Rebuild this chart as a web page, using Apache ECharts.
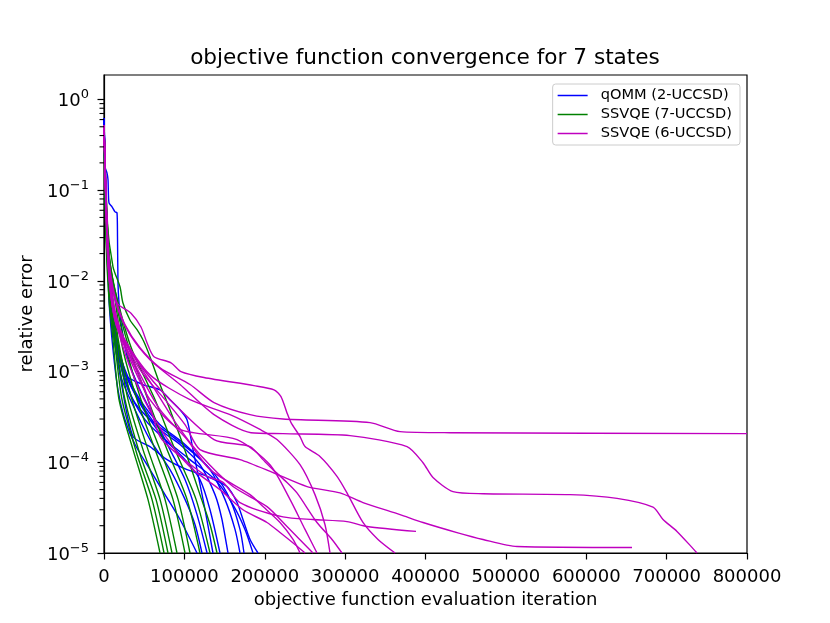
<!DOCTYPE html>
<html>
<head>
<meta charset="utf-8">
<script src="https://cdn.jsdelivr.net/npm/echarts@6/dist/echarts.min.js"></script>
<style>
  html, body { margin: 0; padding: 0; background: #fff; }
  #chart { width: 830px; height: 623px; }
</style>
</head>
<body>
<div id="chart"></div>
<script>
// runs: [evaluation iteration, relative error]
var qommRuns = [
  [[0,0.625],[1200,0.167],[3700,0.0366],[6200,0.0062],[11200,0.00174],[17400,6.3e-4],[26100,2.95e-4],[38600,1.57e-4],[57200,8.3e-5],[75900,4.4e-5],[94600,2.34e-5],[115700,1e-5]],
  [[0,0.625],[2500,0.078],[5000,0.0171],[7500,0.0062],[13700,0.00198],[22400,8.1e-4],[38600,3.8e-4],[57200,1.78e-4],[82100,8.3e-5],[100800,3.9e-5],[113200,2.06e-5],[121900,1e-5]],
  [[0,0.625],[1200,0.181],[3700,0.155],[5000,0.13],[6200,0.0725],[10000,0.0655],[13700,0.0577],[16200,0.0562],[16800,0.0306],[17400,0.0095],[18700,0.0057],[22400,0.0029],[29900,0.00135],[44800,6.3e-4],[63500,2.95e-4],[82100,1.38e-4],[100800,6.45e-5],[115700,2.65e-5],[128200,1e-5]],
  [[0,0.625],[2500,0.0607],[6200,0.0132],[10000,0.0048],[17400,0.00174],[26100,9.2e-4],[48500,7.2e-4],[69700,6.3e-4],[82100,4.9e-4],[94600,3.8e-4],[103300,2.95e-4],[109500,1.57e-4],[117000,7.3e-5],[125700,3.0e-5],[135600,1e-5]],
  [[0,0.625],[2500,0.0535],[7500,0.008],[13700,0.0029],[22400,0.00119],[38600,5.6e-4],[57200,2.95e-4],[75900,1.78e-4],[100800,1.07e-4],[119400,6.45e-5],[131900,3.0e-5],[144300,1e-5]],
  [[0,0.625],[3700,0.0366],[8700,0.0062],[17400,0.00198],[29900,8.1e-4],[51000,3.8e-4],[69700,2.3e-4],[94600,1.57e-4],[119400,9.4e-5],[138100,4.4e-5],[146800,2.34e-5],[154300,1e-5]],
  [[0,0.625],[2500,0.0471],[7500,0.007],[14900,0.00224],[26100,0.00105],[44800,4.9e-4],[69700,2.6e-4],[100800,1.57e-4],[131900,8.3e-5],[150500,3.9e-5],[163000,1.82e-5],[169200,1e-5]],
  [[0,0.625],[3700,0.0322],[10000,0.0048],[19900,0.00135],[36100,4.9e-4],[57200,2.95e-4],[82100,2.02e-4],[113200,1.22e-4],[138100,7.3e-5],[156800,3.9e-5],[169200,1.82e-5],[174200,1e-5]],
  [[0,0.625],[3700,0.0284],[10000,0.0037],[19900,9.2e-4],[36100,1.92e-4],[57200,1.49e-4],[78400,1.07e-4],[103300,8.3e-5],[128200,7.0e-5],[153000,5.4e-5],[165500,3.6e-5],[172900,2.34e-5],[181700,1.41e-5],[191600,1e-5]],
  [[0,0.625],[2500,0.0415],[7500,0.0062],[16200,0.00174],[29900,6.3e-4],[51000,2.95e-4],[75900,1.78e-4],[107000,1.07e-4],[138100,6.45e-5],[160500,3.4e-5],[175400,1.82e-5],[185400,1e-5]]
];

var ssvqe7Runs = [
  [[0,0.524],[2500,0.0284],[6200,0.0062],[11200,0.00224],[18700,4.9e-4],[36100,1.38e-4],[54700,3.9e-5],[69700,1e-5]],
  [[0,0.524],[2500,0.0322],[7500,0.0062],[13700,0.00198],[22400,4.9e-4],[41100,1.22e-4],[59700,3.9e-5],[74700,1e-5]],
  [[0,0.524],[3700,0.025],[8700,0.0062],[16200,0.00174],[26100,4.9e-4],[44800,1.22e-4],[64700,3.9e-5],[79600,1e-5]],
  [[0,0.524],[3700,0.0284],[10000,0.0062],[17400,0.00198],[29900,4.9e-4],[48500,1.38e-4],[69700,3.9e-5],[84600,1e-5]],
  [[0,0.524],[3700,0.0322],[11200,0.0062],[19900,0.00174],[34800,4.9e-4],[54700,1.38e-4],[75900,3.9e-5],[90800,1e-5]],
  [[0,0.524],[5000,0.022],[13700,0.0062],[23600,0.00174],[41100,4.9e-4],[63500,1.38e-4],[85800,3.9e-5],[100800,1e-5]],
  [[0,0.524],[5000,0.025],[14900,0.0062],[26100,0.00198],[46000,4.9e-4],[69700,1.38e-4],[92100,3.9e-5],[107000,1e-5]],
  [[0,0.524],[6200,0.0194],[17400,0.0055],[29900,0.00198],[54700,4.9e-4],[78400,1.38e-4],[103300,3.9e-5],[119400,1e-5]],
  [[0,0.524],[7500,0.015],[19900,0.0048],[34800,0.00174],[63500,4.9e-4],[88300,1.38e-4],[114500,3.9e-5],[131900,1e-5]],
  [[0,0.524],[3700,0.0471],[11200,0.0143],[19900,0.0086],[23600,0.0057],[32300,0.0037],[41100,0.0029],[48500,0.00224],[57200,0.00146],[69700,7.2e-4],[82100,3.8e-4],[94600,1.92e-4],[107000,9.4e-5],[119400,4.4e-5],[131900,2.06e-5],[140600,1e-5]]
];

var ssvqe6Runs = [
  [[0,0.524],[3700,0.0471],[7500,0.0132],[14900,0.0062],[26100,0.0033],[44800,0.00183],[69700,0.0011],[107000,7.2e-4],[136900,4.55e-4],[181700,3.35e-4],[222700,3.0e-4],[331000,2.74e-4],[368300,2.18e-4],[430500,2.12e-4],[800000,2.07e-4]],
  [[0,0.524],[3700,0.0366],[8700,0.0103],[17400,0.0048],[32300,0.00255],[57200,0.00135],[94600,7.2e-4],[136900,3.35e-4],[182900,2.12e-4],[222700,2.07e-4],[306100,1.97e-4],[377000,1.49e-4],[396900,9.9e-5],[409300,6.8e-5],[434200,4.75e-5],[471600,4.5e-5],[579800,4.4e-5],[638300,4.0e-5],[683100,3.2e-5],[695500,2.34e-5],[712900,1.73e-5],[737800,1e-5]],
  [[0,0.524],[3700,0.0366],[7500,0.0117],[16200,0.0057],[33600,0.0044],[46000,0.0031],[53500,0.00208],[62200,0.00146],[83400,0.00125],[95800,0.001],[124400,8.6e-4],[186600,7.0e-4],[211500,6.3e-4],[220200,5.3e-4],[227700,3.5e-4],[232700,2.74e-4],[243900,1.92e-4],[250100,1.49e-4],[268700,1.16e-4],[289900,7.0e-5],[302300,4.6e-5],[322200,2.17e-5],[340900,1.41e-5],[362100,1e-5]],
  [[0,0.524],[5000,0.022],[11200,0.0062],[22400,0.00255],[44800,0.00105],[75900,4.9e-4],[100800,2.6e-4],[119400,1.38e-4],[169200,1.07e-4],[210300,7.7e-5],[252600,5.4e-5],[293600,4.6e-5],[322200,3.6e-5],[368300,2.65e-5],[396900,2.17e-5],[439200,1.68e-5],[471600,1.41e-5],[513900,1.18e-5],[656900,1.15e-5]],
  [[0,0.524],[5000,0.0171],[12400,0.0048],[26100,0.00198],[51000,6.3e-4],[69700,1.92e-4],[94600,1.16e-4],[110700,9.0e-5],[128200,7.0e-5],[148100,6.0e-5],[169200,3.6e-5],[222700,2.5e-5],[260000,2.34e-5],[302300,2.22e-5],[327200,1.96e-5],[388200,1.73e-5]],
  [[0,0.524],[5000,0.0194],[11200,0.0055],[24900,0.00224],[44800,0.00119],[75900,5.6e-4],[136900,1.78e-4],[181700,1.49e-4],[197800,1.07e-4],[210300,8.3e-5],[227700,6.0e-5],[240100,4.6e-5],[265000,2.17e-5],[283700,1.41e-5],[296100,1e-5]],
  [[0,0.524],[5000,0.015],[13700,0.0037],[32300,0.00174],[63500,6.3e-4],[90800,2.6e-4],[119400,1.22e-4],[160500,5.4e-5],[202800,3.25e-5],[227700,1.96e-5],[260000,1e-5]],
  [[0,0.524],[6200,0.0132],[14900,0.0033],[38600,0.00119],[69700,3.8e-4],[103300,1.78e-4],[131900,8.3e-5],[181700,4.4e-5],[197800,3.25e-5],[219000,2.17e-5],[235200,1.41e-5],[243900,1e-5]],
  [[0,0.524],[5000,0.0162],[12400,0.0042],[29900,0.00153],[57200,4.9e-4],[94600,2.3e-4],[165500,1.78e-4],[206500,9.4e-5],[231400,3.9e-5],[250100,1.82e-5],[265000,1e-5]],
  [[0,0.524],[5000,0.018],[11200,0.0051],[26100,0.00224],[57200,9.2e-4],[107000,4.9e-4],[156800,3.35e-4],[194100,2.3e-4],[215200,1.78e-4],[243900,9.4e-5],[262500,4.4e-5],[274900,2.06e-5],[281200,1e-5]],
  [[0,0.524],[6200,0.0117],[17400,0.0029],[38600,8.1e-4],[63500,2.95e-4],[88300,1.38e-4],[110700,8.3e-5],[144300,5.0e-5],[172900,3.0e-5],[202800,2.17e-5],[219000,1.68e-5],[237600,1.24e-5],[250100,1e-5]]
];

var groupNames = ['qOMM (2-UCCSD)', 'SSVQE (7-UCCSD)', 'SSVQE (6-UCCSD)'];
var groupColors = ['#0000ff', '#008000', '#bf00bf'];
var groupRuns = [qommRuns, ssvqe7Runs, ssvqe6Runs];
var yTickPowers = [-5, -4, -3, -2, -1, 0];
var yMin = 1e-5, yMax = 1.86;

var FONT = 'DejaVu Sans';

var series = [];
groupRuns.forEach(function (runs, g) {
  runs.forEach(function (run) {
    series.push({
      name: groupNames[g],
      type: 'line',
      data: run,
      showSymbol: false,
      symbol: 'none',
      smooth: 0.25,
      clip: true,
      silent: true,
      color: groupColors[g],
      lineStyle: { width: 1.4, color: groupColors[g] }
    });
  });
});

function supLabel(v) {
  var e = Math.round(Math.log10(v));
  if (Math.abs(Math.log10(v) - e) > 1e-6 || yTickPowers.indexOf(e) < 0) return '';
  return '{b|10}{s|' + (e < 0 ? '\u2212' + (-e) : e) + '}';
}

var myChart = echarts.init(document.getElementById('chart'));
myChart.setOption({
  animation: false,
  backgroundColor: '#fff',
  title: {
    text: 'objective function convergence for 7 states',
    left: 420,
    textAlign: 'center',
    top: 42,
    textStyle: { fontFamily: FONT, fontSize: 21.6, fontWeight: 'normal', color: '#000' }
  },
  legend: {
    data: groupNames,
    orient: 'vertical',
    right: 90,
    top: 84,
    padding: [4, 8, 4, 5],
    itemGap: 4,
    itemWidth: 30,
    itemHeight: 1.5,
    icon: 'rect',
    borderColor: '#cccccc',
    borderWidth: 1,
    borderRadius: 3,
    backgroundColor: '#fff',
    textStyle: { fontFamily: FONT, fontSize: 14.6, color: '#000', padding: [0, 0, 0, 8] }
  },
  grid: {
    left: 104, right: 83, top: 75, bottom: 70,
    show: true, borderColor: '#000', borderWidth: 1.2, backgroundColor: 'transparent'
  },
  xAxis: {
    type: 'value',
    min: 0, max: 800000, interval: 100000,
    name: 'objective function evaluation iteration',
    nameLocation: 'middle',
    nameGap: 38,
    nameTextStyle: { fontFamily: FONT, fontSize: 18, color: '#000' },
    axisLine: { show: true, lineStyle: { color: '#000', width: 1.2 } },
    axisTick: { show: true, inside: false, length: 6.5, lineStyle: { color: '#000', width: 1.2 } },
    axisLabel: {
      margin: 15,
      fontFamily: FONT, fontSize: 18, color: '#000',
      formatter: function (v) { return String(v); }
    },
    splitLine: { show: false }
  },
  yAxis: {
    type: 'log',
    logBase: 10,
    min: yMin, max: yMax,
    name: 'relative error',
    nameLocation: 'middle',
    nameGap: 57,
    nameTextStyle: { fontFamily: FONT, fontSize: 18, color: '#000' },
    axisLine: { show: true, lineStyle: { color: '#000', width: 1.2 } },
    axisTick: { show: true, inside: false, length: 6.5, lineStyle: { color: '#000', width: 1.2 } },
    minorTick: { show: false },
    axisLabel: {
      margin: 15,
      showMaxLabel: false,
      formatter: supLabel,
      rich: {
        b: { fontFamily: FONT, fontSize: 18, color: '#000', verticalAlign: 'bottom' },
        s: { fontFamily: FONT, fontSize: 13, color: '#000', padding: [0, 0, 9, 0], verticalAlign: 'bottom' }
      }
    },
    splitLine: { show: false }
  },
  series: series
});

// log-spaced minor ticks (2..9 per decade), placed through the axis scale
var minorTicks = [];
var axisX = myChart.convertToPixel({ xAxisIndex: 0 }, 0);
yTickPowers.forEach(function (p) {
  for (var m = 2; m <= 9; m++) {
    var v = m * Math.pow(10, p);
    if (v < yMin || v > yMax) continue;
    var py = myChart.convertToPixel({ yAxisIndex: 0 }, v);
    if (typeof py !== 'number' || isNaN(py)) continue;
    minorTicks.push({
      type: 'line',
      silent: true,
      z: 100,
      shape: { x1: axisX - 4.5, y1: py, x2: axisX, y2: py },
      style: { stroke: '#000', lineWidth: 1.1 }
    });
  }
});
myChart.setOption({ graphic: { elements: minorTicks } });
</script>
</body>
</html>
